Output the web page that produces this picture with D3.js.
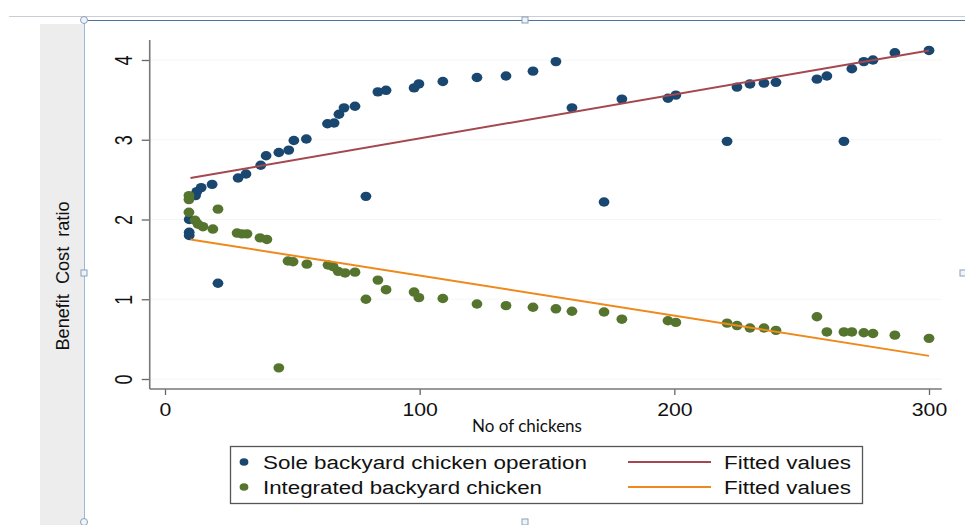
<!DOCTYPE html>
<html>
<head>
<meta charset="utf-8">
<script src="https://cdn.jsdelivr.net/npm/d3@7"></script>
<style>
  body { margin: 0; background: #fff; }
  svg { display: block; }
  .tick text { font-family: "Liberation Sans", Arial, sans-serif; font-size: 18px; fill: #111; }
</style>
</head>
<body>
<div id="chart"></div>
<script>
// sole backyard chicken operation (navy)
const soleX = [9.5, 9.5, 9.5, 12, 12.5, 14.2, 18.5, 20.8, 28.7, 31.8, 37.6, 39.7, 44.7, 48.6, 50.6, 55.5, 63.8, 66.4, 68.3, 70.3, 74.6, 78.9, 83.6, 86.8, 97.8, 99.7, 109.1, 122.5, 133.9, 144.5, 153.5, 159.8, 172.4, 179.4, 197.5, 200.6, 220.7, 224.6, 229.7, 235.2, 239.9, 256, 259.9, 266.6, 269.7, 274.4, 278, 286.6, 300]
const soleY = [1.80, 1.84, 2.00, 2.30, 2.35, 2.40, 2.44, 1.20, 2.52, 2.57, 2.68, 2.80, 2.84, 2.87, 2.99, 3.01, 3.20, 3.21, 3.32, 3.40, 3.42, 2.29, 3.60, 3.62, 3.65, 3.70, 3.73, 3.78, 3.80, 3.86, 3.98, 3.40, 2.22, 3.51, 3.52, 3.56, 2.98, 3.66, 3.70, 3.71, 3.72, 3.76, 3.80, 2.98, 3.89, 3.98, 4.00, 4.09, 4.12]

// integrated backyard chicken (green)
const intX = [9.4, 9.4, 9.4, 11.8, 13, 14.9, 18.8, 20.8, 28.3, 30.2, 32.2, 37.3, 40, 44.7, 48.3, 50.3, 55.7, 64, 66, 68, 70.7, 74.6, 78.9, 83.6, 86.8, 97.8, 99.7, 109.1, 122.5, 133.9, 144.5, 153.5, 159.8, 172.4, 179.4, 197.5, 200.6, 220.7, 224.6, 229.7, 235.2, 239.9, 256, 259.9, 266.6, 269.7, 274.4, 278, 286.6, 300]
const intY = [2.30, 2.25, 2.09, 1.99, 1.94, 1.91, 1.88, 2.13, 1.83, 1.82, 1.82, 1.77, 1.75, 0.14, 1.48, 1.47, 1.44, 1.43, 1.41, 1.35, 1.33, 1.34, 1.00, 1.24, 1.12, 1.09, 1.02, 1.01, 0.94, 0.92, 0.90, 0.88, 0.85, 0.84, 0.75, 0.73, 0.71, 0.70, 0.67, 0.64, 0.64, 0.61, 0.78, 0.59, 0.59, 0.59, 0.58, 0.57, 0.55, 0.51]

// fitted lines (end points)
const fitX = [10, 300]
const soleFit = [2.52, 4.12]
const intFit = [1.75, 0.29]

const xTicks = [0, 100, 200, 300]
const yTicks = [0, 1, 2, 3, 4]

const navy = '#1a476f'
const green = '#55752f'
const maroon = '#a5474f'
const orange = '#f0891c'

const width = 965
const height = 525

const svg = d3.select('#chart').append('svg')
  .attr('width', width)
  .attr('height', height)

// editor frame bits
svg.append('rect').attr('x', 40).attr('y', 24).attr('width', 44).attr('height', 501).attr('fill', '#ededed')
svg.append('line').attr('x1', 9).attr('x2', 965).attr('y1', 16.5).attr('y2', 16.5).attr('stroke', '#c9cdd4')
svg.append('line').attr('x1', 84).attr('x2', 965).attr('y1', 20.5).attr('y2', 20.5).attr('stroke', '#4d72a0').attr('stroke-width', 1.2)
svg.append('line').attr('x1', 84.5).attr('x2', 84.5).attr('y1', 20).attr('y2', 522).attr('stroke', '#9bb7d9')
const handles = [[84, 20, 'c'], [525, 20, 's'], [84, 273, 's'], [963, 273, 's'], [84, 522, 'c'], [525, 522, 's']]
handles.forEach(h => {
  if (h[2] === 'c') {
    svg.append('circle').attr('cx', h[0]).attr('cy', h[1]).attr('r', 3.5).attr('fill', '#eef4fa').attr('stroke', '#8aa0b8')
  } else {
    svg.append('rect').attr('x', h[0] - 3).attr('y', h[1] - 3).attr('width', 6).attr('height', 6).attr('fill', '#eef4fa').attr('stroke', '#8aa0b8')
  }
})

const x = d3.scaleLinear().domain([0, 300]).range([165, 929])
const y = d3.scaleLinear().domain([0, 4]).range([379, 60])

// faint grid
svg.append('g').selectAll('line')
  .data(yTicks)
  .enter()
  .append('line')
  .attr('x1', x(-6)).attr('x2', x(305))
  .attr('y1', d => y(d)).attr('y2', d => y(d))
  .attr('stroke', '#f6f6f6')

// axes (the picture is stretched sideways, so the labels are too)
const yAxis = svg.append('g')
  .attr('transform', 'translate(' + x(-6) + ',0)')
  .call(d3.axisLeft(y).tickValues(yTicks).tickSize(8).tickPadding(0).tickFormat(d3.format('d')))
yAxis.select('.domain').remove()
yAxis.selectAll('.tick line').attr('stroke', '#666').attr('stroke-width', 1.3)
yAxis.selectAll('.tick text')
  .attr('transform', 'translate(-18,0) scale(1.3,1) rotate(-90)')
  .attr('text-anchor', 'middle')
  .attr('x', 0).attr('y', 0).attr('dy', 0)

const xAxis = svg.append('g')
  .attr('transform', 'translate(0,' + y(-0.125) + ')')
  .call(d3.axisBottom(x).tickValues(xTicks).tickSize(6).tickPadding(8).tickFormat(d3.format('d')))
xAxis.select('.domain').remove()
xAxis.selectAll('.tick line').attr('stroke', '#666').attr('stroke-width', 1.3)
xAxis.selectAll('.tick text').attr('dy', '0.71em').attr('transform', 'scale(1.18,1)')

svg.append('line')
  .attr('x1', x(-6)).attr('x2', x(-6))
  .attr('y1', y(4.25)).attr('y2', y(-0.125))
  .attr('stroke', '#777').attr('stroke-width', 1.6)
svg.append('line')
  .attr('x1', x(-6)).attr('x2', x(305))
  .attr('y1', y(-0.125)).attr('y2', y(-0.125))
  .attr('stroke', '#777').attr('stroke-width', 1.6)

// axis titles
svg.append('text')
  .attr('x', 527).attr('y', 432)
  .attr('text-anchor', 'middle')
  .attr('font-family', 'Lato, "Open Sans", sans-serif')
  .attr('font-size', 17)
  .attr('fill', '#111')
  .text('No of chickens')

svg.append('text')
  .attr('transform', 'translate(69,276) scale(1.2,1) rotate(-90)')
  .attr('text-anchor', 'middle')
  .attr('font-family', '"Liberation Sans", Arial, sans-serif')
  .attr('font-size', 16)
  .attr('textLength', 149)
  .attr('lengthAdjust', 'spacingAndGlyphs')
  .attr('fill', '#111')
  .attr('xml:space', 'preserve')
  .text('Benefit  Cost  ratio')

// scatter
const sole = soleX.map((d, i) => [d, soleY[i]])
const integ = intX.map((d, i) => [d, intY[i]])

svg.append('g').selectAll('ellipse')
  .data(sole)
  .enter()
  .append('ellipse')
  .attr('cx', d => x(d[0]))
  .attr('cy', d => y(d[1]))
  .attr('rx', 5.4)
  .attr('ry', 4.7)
  .attr('fill', navy)

svg.append('g').selectAll('ellipse')
  .data(integ)
  .enter()
  .append('ellipse')
  .attr('cx', d => x(d[0]))
  .attr('cy', d => y(d[1]))
  .attr('rx', 5.4)
  .attr('ry', 4.7)
  .attr('fill', green)

// fitted lines
const line = d3.line().x(d => x(d[0])).y(d => y(d[1]))
svg.append('path')
  .datum(fitX.map((d, i) => [d, soleFit[i]]))
  .attr('d', line)
  .attr('fill', 'none')
  .attr('stroke', maroon)
  .attr('stroke-width', 2)
svg.append('path')
  .datum(fitX.map((d, i) => [d, intFit[i]]))
  .attr('d', line)
  .attr('fill', 'none')
  .attr('stroke', orange)
  .attr('stroke-width', 2)

// legend
const legend = svg.append('g')
legend.append('rect')
  .attr('x', 230.5).attr('y', 446.5).attr('width', 632).attr('height', 57)
  .attr('fill', '#fff').attr('stroke', '#555').attr('stroke-width', 1.3)

const legendItems = [
  { type: 'dot', color: navy, label: 'Sole backyard chicken operation', len: 324, col: 0, row: 0 },
  { type: 'dot', color: green, label: 'Integrated backyard chicken', len: 279, col: 0, row: 1 },
  { type: 'line', color: maroon, label: 'Fitted values', len: 127, col: 1, row: 0 },
  { type: 'line', color: orange, label: 'Fitted values', len: 127, col: 1, row: 1 }
]
legendItems.forEach(e => {
  const cy = 463 + e.row * 25
  if (e.type === 'dot') {
    legend.append('ellipse').attr('cx', 244).attr('cy', cy - 1).attr('rx', 4.4).attr('ry', 3.8).attr('fill', e.color)
  } else {
    legend.append('line').attr('x1', 628).attr('x2', 711).attr('y1', cy - 1).attr('y2', cy - 1)
      .attr('stroke', e.color).attr('stroke-width', 2)
  }
  legend.append('text')
    .attr('x', e.col === 0 ? 263 : 724)
    .attr('y', cy + 6)
    .attr('font-family', '"Liberation Sans", Arial, sans-serif')
    .attr('font-size', 18)
    .attr('textLength', e.len)
    .attr('lengthAdjust', 'spacingAndGlyphs')
    .attr('fill', '#111')
    .text(e.label)
})
</script>
</body>
</html>
